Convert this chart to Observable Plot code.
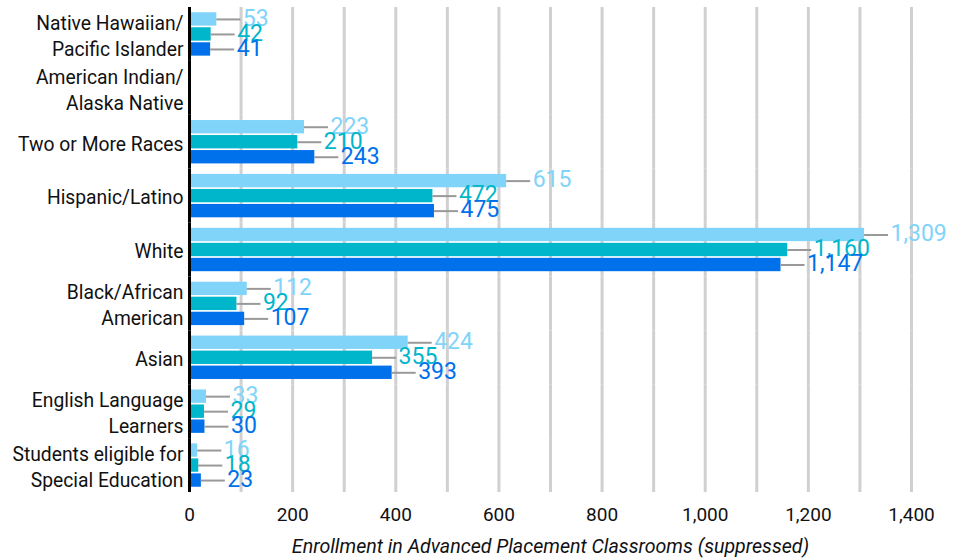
<!DOCTYPE html>
<html>
<head>
<meta charset="utf-8">
<script src="https://cdn.jsdelivr.net/npm/d3@7"></script>
<script src="https://cdn.jsdelivr.net/npm/@observablehq/plot@0.6"></script>
<style>
  html, body { margin: 0; padding: 0; background: #fff; }
  #chart { width: 964px; height: 560px; }
</style>
</head>
<body>
<div id="chart"></div>
<script>
// ---- Data ----
const categories = [
  "Native Hawaiian/\nPacific Islander",
  "American Indian/\nAlaska Native",
  "Two or More Races",
  "Hispanic/Latino",
  "White",
  "Black/African\nAmerican",
  "Asian",
  "English Language\nLearners",
  "Students eligible for\nSpecial Education"
];
const seriesNames = ["Series 1", "Series 2", "Series 3"];
const series1 = [53, null, 223, 615, 1309, 112, 424, 33, 16];
const series2 = [42, null, 210, 472, 1160, 92, 355, 29, 18];
const series3 = [41, null, 243, 475, 1147, 107, 393, 30, 23];
const seriesColors = ["#81d4f9", "#00b6cb", "#0071eb"];
const xTicks = [0, 200, 400, 600, 800, 1000, 1200, 1400];
const gridTicks = d3.range(0, 1401, 100);
const xLabel = "Enrollment in Advanced Placement Classrooms (suppressed)";

// ---- Build table ----
const allSeries = [series1, series2, series3];
const rows = [];
categories.forEach((c, i) => {
  allSeries.forEach((s, j) => {
    if (s[i] != null) rows.push({category: c, series: seriesNames[j], value: s[i]});
  });
});

const W = 964, H = 560, mL = 189, mR = 53, mT = 7, mB = 68;
const pxPerUnit = (W - mL - mR) / 1400;
const lineLen = 24 / pxPerUnit;

const fmt = d3.format(",");

const chart = Plot.plot({
  width: W,
  height: H,
  marginLeft: mL,
  marginRight: mR,
  marginTop: mT,
  marginBottom: mB,
  style: {fontFamily: "Roboto, sans-serif", fontSize: "19px", color: "#111", background: "#fff"},
  fy: {domain: categories, padding: 0, round: false, axis: null},
  y: {domain: seriesNames, paddingInner: 0.11, paddingOuter: 0.35, round: false, axis: null},
  x: {domain: [0, 1400], ticks: xTicks, tickFormat: fmt, tickSize: 0, tickPadding: 15, label: xLabel, labelArrow: "none", labelAnchor: "center", labelOffset: 60},
  color: {domain: seriesNames, range: seriesColors},
  marks: [
    Plot.ruleX(gridTicks, {stroke: "#d0d0d0", strokeWidth: 3}),
    Plot.barX(rows, {x: "value", y: "series", fy: "category", fill: "series"}),
    Plot.ruleY(rows, {y: "series", fy: "category", x1: "value", x2: d => d.value + lineLen, stroke: "#999", strokeWidth: 2}),
    Plot.text(rows, {x: "value", y: "series", fy: "category", text: d => fmt(d.value), dx: 26, dy: -1, textAnchor: "start", fill: "series", fontSize: 23}),
    Plot.ruleX([0], {stroke: "#000", strokeWidth: 3}),
    Plot.text(categories, {fy: d => d, text: d => d, frameAnchor: "left", dx: -6, textAnchor: "end", lineHeight: 1.35, fill: "#111", fontSize: 19.3})
  ]
});

document.getElementById("chart").appendChild(chart);
// italicize the axis label and drop any arrow
d3.select(chart).selectAll("text").filter(function() { return this.textContent && this.textContent.indexOf("Enrollment") >= 0; })
  .each(function() { this.textContent = xLabel; })
  .style("font-style", "italic").style("font-size", "19.6px");
</script>
</body>
</html>
